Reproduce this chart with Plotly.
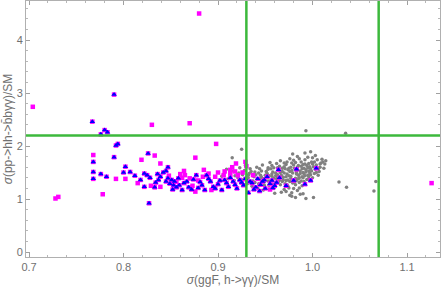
import plotly.graph_objects as go

# ---- data ----
gray_x = [0.904,0.907,0.911,0.913,0.909,0.915,0.917,0.918,0.916,0.921,0.922,0.923,0.924,0.925,0.927,0.926,0.928,0.929,0.931,0.932,
          0.933,0.934,0.936,0.937,0.938,0.939,0.941,0.942,0.943,0.944,0.945,0.946,0.947,0.948,0.949,0.951,0.952,0.953,0.954,0.955,
          0.956,0.957,0.958,0.959,0.960,0.961,0.962,0.963,0.964,0.965,0.966,0.967,0.968,0.969,0.970,0.971,0.972,0.973,0.974,0.975,
          0.976,0.977,0.978,0.979,0.980,0.981,0.982,0.983,0.984,0.985,0.986,0.987,0.988,0.989,0.990,0.991,0.992,0.992,0.993,0.994,
          0.995,0.996,0.997,0.998,0.999,1.000,1.001,1.002,1.003,1.004,1.005,1.006,1.007,1.008,1.009,1.010,1.012,1.013,1.014,0.993,
          1.035,1.028,1.036,1.067,1.065,0.961,0.966,0.969,0.972,0.974,0.977,0.979,0.981,0.983,0.985,0.987,0.988,0.990,0.991,0.993,
          0.994,0.996,0.997,0.998,1.000,0.964,0.971,0.976,0.982,0.986,0.989,0.975,0.970,0.978,0.984,0.958,0.953,0.950,0.946,0.940,
          0.935,0.957,0.962,0.968,0.973,0.980,0.984,0.995,1.003,0.988,0.978,0.982,0.960,
          0.943,0.948,0.951,0.954,0.956,0.959,0.961,0.963,0.965,0.967,0.968,0.970,0.972,0.973,0.975,0.977,0.978,0.980,0.981,0.983,
          0.984,0.986,0.987,0.989,0.990,0.992,0.993,0.995,0.996,0.998,0.999,1.001,1.002,1.004,1.006,1.008,1.011,0.966,0.974,0.979,
          0.985,0.991,0.996,0.963,0.957,0.953,0.949,0.944,0.932,0.930,0.939,0.970,0.976,0.982,0.992,1.000,0.976,0.990,0.972,0.986]
gray_y = [1.43,1.51,1.38,1.47,1.56,1.78,1.35,1.44,1.53,1.40,1.49,1.59,1.31,1.94,1.37,1.46,1.54,1.63,1.29,1.40,
          1.48,1.57,1.24,1.34,1.42,1.51,1.60,1.21,1.29,1.37,1.45,1.53,1.64,1.17,1.32,1.40,1.48,1.56,1.26,1.69,
          1.35,1.43,1.51,1.59,1.22,1.30,1.38,1.46,1.54,1.62,1.72,1.13,1.33,1.41,1.49,1.57,1.65,1.27,1.36,1.44,
          1.52,1.60,1.68,1.85,1.20,1.31,1.39,1.47,1.55,1.63,1.76,1.09,1.34,1.42,1.50,1.58,1.66,1.87,1.01,1.37,
          1.45,1.53,1.61,1.89,1.70,1.40,1.03,1.48,1.56,1.64,1.74,1.45,1.52,1.60,1.68,1.75,1.58,1.66,1.72,2.29,
          2.24,1.32,1.22,1.33,1.15,1.44,1.50,1.36,1.42,1.55,1.39,1.49,1.58,1.35,1.45,1.53,1.62,1.40,1.47,1.55,
          1.63,1.42,1.49,1.57,1.66,1.33,1.29,1.33,1.27,1.31,1.25,1.21,1.18,1.12,1.16,1.28,1.34,1.45,1.41,1.46,
          1.52,1.63,1.67,1.58,1.70,1.73,1.80,1.79,1.82,1.70,1.05,1.03,1.11,
          1.49,1.38,1.52,1.44,1.57,1.39,1.49,1.59,1.36,1.45,1.52,1.61,1.35,1.47,1.58,1.43,1.54,1.64,1.36,1.51,
          1.60,1.40,1.48,1.57,1.65,1.44,1.51,1.59,1.67,1.46,1.53,1.61,1.70,1.50,1.57,1.66,1.70,1.27,1.24,1.30,
          1.38,1.33,1.37,1.40,1.47,1.59,1.26,1.57,1.45,1.34,1.31,1.68,1.76,1.69,1.74,1.78,1.07,1.10,1.14,1.21]

blue_x = [0.767,0.776,0.780,0.783,0.790,0.792,0.794,0.768,0.768,0.768,0.776,0.782,0.790,0.800,0.802,0.807,0.818,0.822,0.822,0.825,
          0.826,0.827,0.836,0.842,0.845,0.847,0.845,0.847,0.851,0.853,0.854,0.858,0.859,0.852,0.833,0.834,0.837,0.862,0.867,0.872,
          0.877,0.883,0.886,0.888,0.892,0.895,0.900,0.904,0.907,0.911,0.916,0.920,0.923,0.927,0.932,0.934,0.936,0.940,0.942,0.945,
          0.947,0.950,0.952,0.955,0.957,0.960,0.962,0.965,0.938,0.944,0.949,0.958,0.964,0.983,1.004,0.980,0.998,0.992,0.972,0.864,
          0.869,0.874,0.879,0.881,0.890,0.897,0.902,0.909,0.913,0.918,0.925,0.929,0.856,0.849,0.828,0.812,0.839]
blue_y = [2.46,2.22,2.30,2.26,2.97,2.01,2.04,1.70,1.51,1.38,1.47,1.42,1.79,1.50,1.61,1.51,1.36,1.48,1.23,1.45,
          1.86,0.92,1.47,1.50,1.53,1.60,1.33,1.39,1.36,1.26,1.33,1.39,1.26,1.18,1.22,1.31,1.36,1.17,1.33,1.18,
          1.45,1.26,1.17,1.45,1.33,1.23,1.28,1.17,1.36,1.23,1.33,1.20,1.36,1.26,1.12,1.33,1.30,1.22,1.38,1.27,
          1.33,1.20,1.42,1.29,1.35,1.25,1.31,1.40,1.18,1.15,1.36,1.21,1.55,1.56,1.58,1.35,1.35,1.28,1.25,1.30,
          1.22,1.37,1.21,1.32,1.38,1.20,1.35,1.30,1.40,1.27,1.31,1.38,1.22,1.29,1.40,1.44,1.42]

magenta_x = [0.704,0.728,0.731,0.768,0.778,0.792,0.802,0.819,0.830,0.833,0.839,0.870,0.898,0.876,0.864,0.880,0.919,0.915,0.913,0.929,
             0.930,1.126,0.829,0.839,0.856,0.865,0.870,0.879,0.890,0.897,0.906,0.913,0.921,0.893,0.876,0.907,0.955,0.937,0.815,0.848,
             0.860,0.884,0.900,0.918,0.926,0.885,0.873,0.862]
magenta_y = [2.74,1.01,1.04,1.83,1.09,1.38,1.38,1.74,2.40,1.82,1.67,2.43,2.04,1.78,1.53,4.50,1.67,1.60,1.55,1.70,
             1.62,1.30,1.25,1.23,1.33,1.45,1.39,1.35,1.48,1.42,1.45,1.48,1.45,1.17,1.14,1.52,1.18,1.45,1.30,1.44,
             1.47,1.42,1.50,1.52,1.50,1.55,1.25,1.40]

vlines = [0.93, 1.07]
hlines = [2.2]
x_ticks = [0.7, 0.8, 0.9, 1.0, 1.1]
y_ticks = [0, 1, 2, 3, 4]

fig = go.Figure()
fig.add_trace(go.Scatter(x=gray_x, y=gray_y, mode="markers",
                         marker=dict(symbol="circle", size=3.5, color="#808080", line=dict(width=0))))
fig.add_trace(go.Scatter(x=magenta_x + blue_x, y=magenta_y + blue_y, mode="markers",
                         marker=dict(symbol="square", size=4.5, color="#ff00ff", line=dict(width=0))))
fig.add_trace(go.Scatter(x=blue_x, y=blue_y, mode="markers",
                         marker=dict(symbol="triangle-up", size=5, color="#0000ff", line=dict(width=0))))

green = "rgb(60,185,60)"
for v in vlines:
    fig.add_shape(type="line", xref="x", yref="paper", x0=v, x1=v, y0=0, y1=1,
                  line=dict(color=green, width=2.5))
for h in hlines:
    fig.add_shape(type="line", xref="paper", yref="y", x0=0, x1=1, y0=h, y1=h,
                  line=dict(color=green, width=2.5))

font_fam = "Liberation Sans, Arial, sans-serif"
axis_common = dict(showgrid=False, zeroline=False, showline=True, linecolor="#b0b0b0", linewidth=1,
                   mirror="allticks", ticks="inside", ticklen=4, tickcolor="#a0a0a0", automargin=False,
                   tickfont=dict(family=font_fam, size=11, color="#707070"))

fig.update_layout(
    width=441, height=291,
    margin=dict(l=26, r=1, t=1, b=34),
    paper_bgcolor="white", plot_bgcolor="white",
    showlegend=False,
    xaxis=dict(range=[0.6968, 1.1349], tickvals=x_ticks, tickformat=".1f",
               minor=dict(dtick=0.02, ticks="inside", ticklen=2, tickcolor="#b8b8b8"),
               title=dict(text="<i>σ</i>(ggF, h->γγ)/SM", standoff=2,
                          font=dict(family=font_fam, size=12, color="#707070")),
               **axis_common),
    yaxis=dict(range=[-0.094, 4.736], tickvals=y_ticks,
               minor=dict(dtick=0.2, ticks="inside", ticklen=2, tickcolor="#b8b8b8"),
               title=dict(text="<i>σ</i>(pp->hh->b\u0304bγγ)/SM", standoff=1,
                          font=dict(family=font_fam, size=12, color="#707070")),
               **axis_common),
)

fig.write_html("out.html", config={"displayModeBar": False},
               post_script="document.body.style.margin='0';document.body.style.padding='0';")
